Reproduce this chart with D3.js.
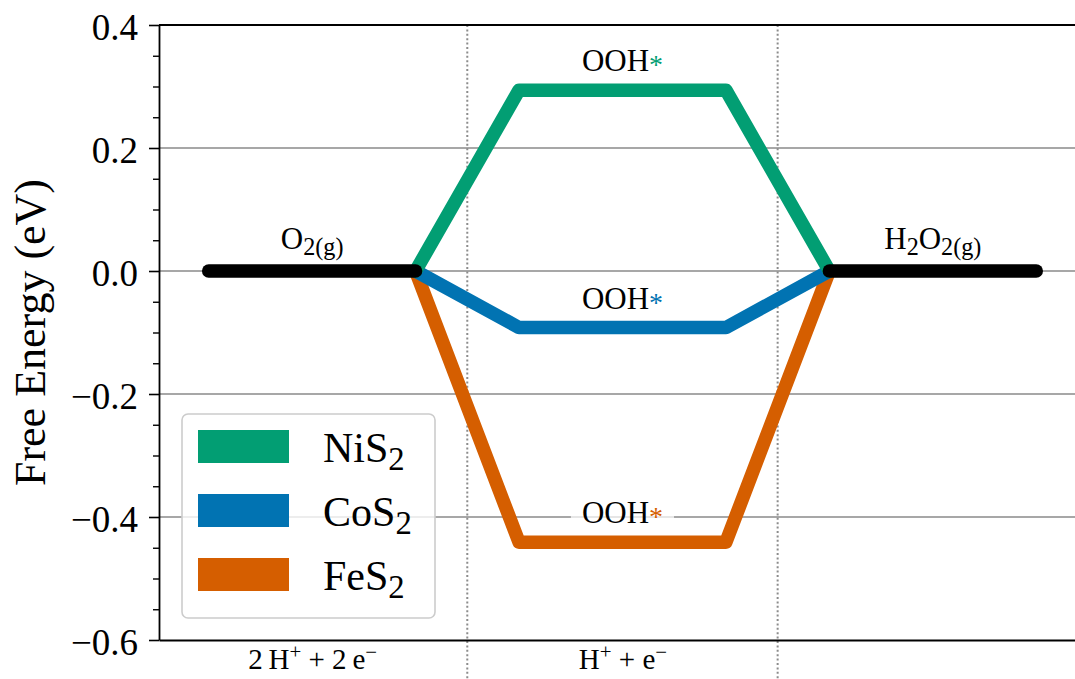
<!DOCTYPE html>
<html>
<head>
<meta charset="utf-8">
<script src="https://cdn.jsdelivr.net/npm/d3@7"></script>
<style>
  body { margin: 0; background: #fff; }
  svg { display: block; }
  text { font-family: "Liberation Serif", "Times New Roman", serif; fill: #000; white-space: pre; }
</style>
</head>
<body>
<svg id="chart" width="1075" height="679"></svg>
<script>
// ---- data -------------------------------------------------------------
const catalysts   = ["NiS2", "CoS2", "FeS2"];
const seriesColor = ["#029E73", "#0173B2", "#D55E00"];
const oohEnergy   = [0.294, -0.092, -0.441];        // ΔG of OOH* (eV)
const gasLabels   = ["O2(g)", "H2O2(g)"];
const gasEnergy   = [0.0, 0.0];                     // reference states (eV)
const stepLabels  = ["2\u2009H+ + 2\u2009e\u2212", "H+ + e\u2212"];
const yTickValues = [-0.6, -0.4, -0.2, 0.0, 0.2, 0.4];
const yMinorStep  = 0.05;

// ---- layout -----------------------------------------------------------
const serif = '"Liberation Serif", "Times New Roman", serif';
const svg = d3.select("#chart");
const plot = { left: 159, top: 25, bottom: 640, right: 1088 };
const levelWidth = 2, levelPitch = 3;              // each state: 2 units wide, 1 unit gap
const levelStart = i => i * levelPitch;
const levelMid   = i => levelStart(i) + levelWidth / 2;

const x = d3.scaleLinear().domain([-0.48, 8.5]).range([plot.left, plot.right]);
const y = d3.scaleLinear().domain([-0.6, 0.4]).range([plot.bottom, plot.top]);

// ---- rich text helper (sub/superscripts) ------------------------------
function rich(sel, segments, size) {
  let shift = 0;
  segments.forEach(([s, kind, color]) => {
    let target = 0, fs = null;
    if (kind === "sub") { target = 0.2 * size; fs = 0.78 * size; }
    if (kind === "sup") { target = -0.36 * size; fs = 0.72 * size; }
    if (kind === "ast") { target = 0.1 * size; fs = 0.9 * size; }
    const ts = sel.append("tspan").text(s).attr("dy", target - shift);
    if (fs) ts.attr("font-size", fs);
    if (color) ts.attr("fill", color);
    shift = target;
  });
}
const formula = s => s.split(/(\d+(?:\(g\))?|\(g\))/).filter(Boolean)
  .map(p => /\d|\(g\)/.test(p) ? [p, "sub"] : [p]);
const ions = s => s.split(/(?<=[He])([+\u2212])/).filter(Boolean)
  .map(p => /^[+\u2212]$/.test(p) ? [p, "sup"] : [p]);

// ---- grid -------------------------------------------------------------
svg.append("g").selectAll("line")
  .data(yTickValues.filter(v => v > -0.6 && v < 0.4))
  .join("line")
  .attr("x1", plot.left).attr("x2", plot.right)
  .attr("y1", d => y(d)).attr("y2", d => y(d))
  .attr("stroke", "#8a8a8a").attr("stroke-width", 1.6);

svg.append("g").selectAll("line")
  .data([0, 1].map(i => levelStart(i) + levelWidth + 0.5))
  .join("line")
  .attr("x1", d => x(d)).attr("x2", d => x(d))
  .attr("y1", plot.top).attr("y2", 679)
  .attr("stroke", "#8c8c8c").attr("stroke-width", 2)
  .attr("stroke-dasharray", "2,2.4");

// ---- energy pathways --------------------------------------------------
const line = d3.line().x(d => x(d[0])).y(d => y(d[1]));
const paths = catalysts.map((c, k) => [
  [levelStart(0) + levelWidth, gasEnergy[0]],
  [levelStart(1), oohEnergy[k]],
  [levelStart(1) + levelWidth, oohEnergy[k]],
  [levelStart(2), gasEnergy[1]]
]);
svg.append("g").selectAll("path")
  .data(d3.range(catalysts.length).reverse())
  .join("path")
  .attr("d", k => line(paths[k]))
  .attr("fill", "none")
  .attr("stroke", k => seriesColor[k])
  .attr("stroke-width", 13.5)
  .attr("stroke-linejoin", "round")
  .attr("stroke-linecap", "round");

svg.append("g").selectAll("path")
  .data(gasEnergy.map((e, i) => [[levelStart(i * 2), e], [levelStart(i * 2) + levelWidth, e]]))
  .join("path")
  .attr("d", line)
  .attr("fill", "none")
  .attr("stroke", "#000")
  .attr("stroke-width", 13.5)
  .attr("stroke-linecap", "round");

// ---- state labels (bottom of text sits 0.03 eV above the level) ------
const labelSize = 31;
function stateLabel(cx, energy, segments, boxed) {
  const g = svg.append("g");
  const rect = g.append("rect");
  const t = g.append("text").attr("text-anchor", "middle").attr("font-size", labelSize);
  rich(t, segments, labelSize);
  const bb = t.node().getBBox();
  const dy = y(energy + 0.03) - (bb.y + bb.height) + 8.5;
  g.attr("transform", `translate(${x(cx)},${dy})`);
  if (boxed) {
    rect.attr("x", bb.x - 11).attr("y", bb.y + 5).attr("width", bb.width + 22)
      .attr("height", bb.height - 8).attr("fill", "#fff").attr("opacity", 0.72);
  } else rect.remove();
}
gasLabels.forEach((s, i) => stateLabel(levelMid(i * 2), gasEnergy[i], formula(s), false));
catalysts.forEach((c, k) => stateLabel(levelMid(1), oohEnergy[k], [["OOH"], ["*", "ast", seriesColor[k]]], true));

// ---- axes -------------------------------------------------------------
const fmt = d3.format(".1f");
const yAxis = svg.append("g").attr("transform", `translate(${plot.left},0)`)
  .call(d3.axisLeft(y).tickValues(yTickValues).tickSize(10).tickSizeOuter(0)
    .tickPadding(11).tickFormat(fmt));
yAxis.attr("font-family", null).attr("font-size", null);
yAxis.selectAll("text").style("font-family", serif).style("font-size", "37px").attr("dy", "0.4em");
yAxis.selectAll(".tick line").attr("stroke-width", 1.6);
yAxis.select(".domain").attr("stroke-width", 1.8);

const minor = d3.range(-12, 9).filter(i => i % 4 !== 0).map(i => i * yMinorStep);
svg.append("g").attr("transform", `translate(${plot.left},0)`)
  .call(d3.axisLeft(y).tickValues(minor).tickSize(6).tickFormat(""))
  .call(g => g.select(".domain").remove())
  .selectAll("line").attr("stroke-width", 1.4);

const xAxis = svg.append("g").attr("transform", `translate(0,${plot.bottom})`)
  .call(d3.axisBottom(x).tickValues([0, 1].map(levelMid)).tickSize(0).tickSizeOuter(0).tickFormat(""));
xAxis.attr("font-family", null).attr("font-size", null);
xAxis.select(".domain").attr("stroke-width", 1.8);
xAxis.selectAll(".tick").each(function (d, i) {
  const t = d3.select(this).append("text").attr("text-anchor", "middle")
    .style("font-family", serif).attr("font-size", 29).attr("y", 29);
  rich(t, ions(stepLabels[i]), 29);
});

svg.append("line")
  .attr("x1", plot.left).attr("x2", plot.right)
  .attr("y1", y(0.4)).attr("y2", y(0.4))
  .attr("stroke", "#000").attr("stroke-width", 1.8);

svg.append("text")
  .attr("transform", `translate(45,${(plot.top + plot.bottom) / 2}) rotate(-90)`)
  .attr("text-anchor", "middle").attr("font-size", 44)
  .text("Free Energy (eV)");

// ---- legend -----------------------------------------------------------
const legend = svg.append("g").attr("transform", "translate(182,414)");
legend.append("rect").attr("width", 253).attr("height", 204).attr("rx", 6)
  .attr("fill", "#fff").attr("fill-opacity", 0.8)
  .attr("stroke", "#ccc").attr("stroke-width", 1.6);
const item = legend.selectAll("g.item").data(catalysts).join("g")
  .attr("class", "item")
  .attr("transform", (d, i) => `translate(0,${32 + i * 64})`);
item.append("rect").attr("x", 16).attr("y", -16).attr("width", 91).attr("height", 33)
  .attr("fill", (d, i) => seriesColor[i]);
item.append("text").attr("x", 141).attr("y", 16).attr("font-size", 42)
  .each(function (d) { rich(d3.select(this), formula(d), 42); });
</script>
</body>
</html>
